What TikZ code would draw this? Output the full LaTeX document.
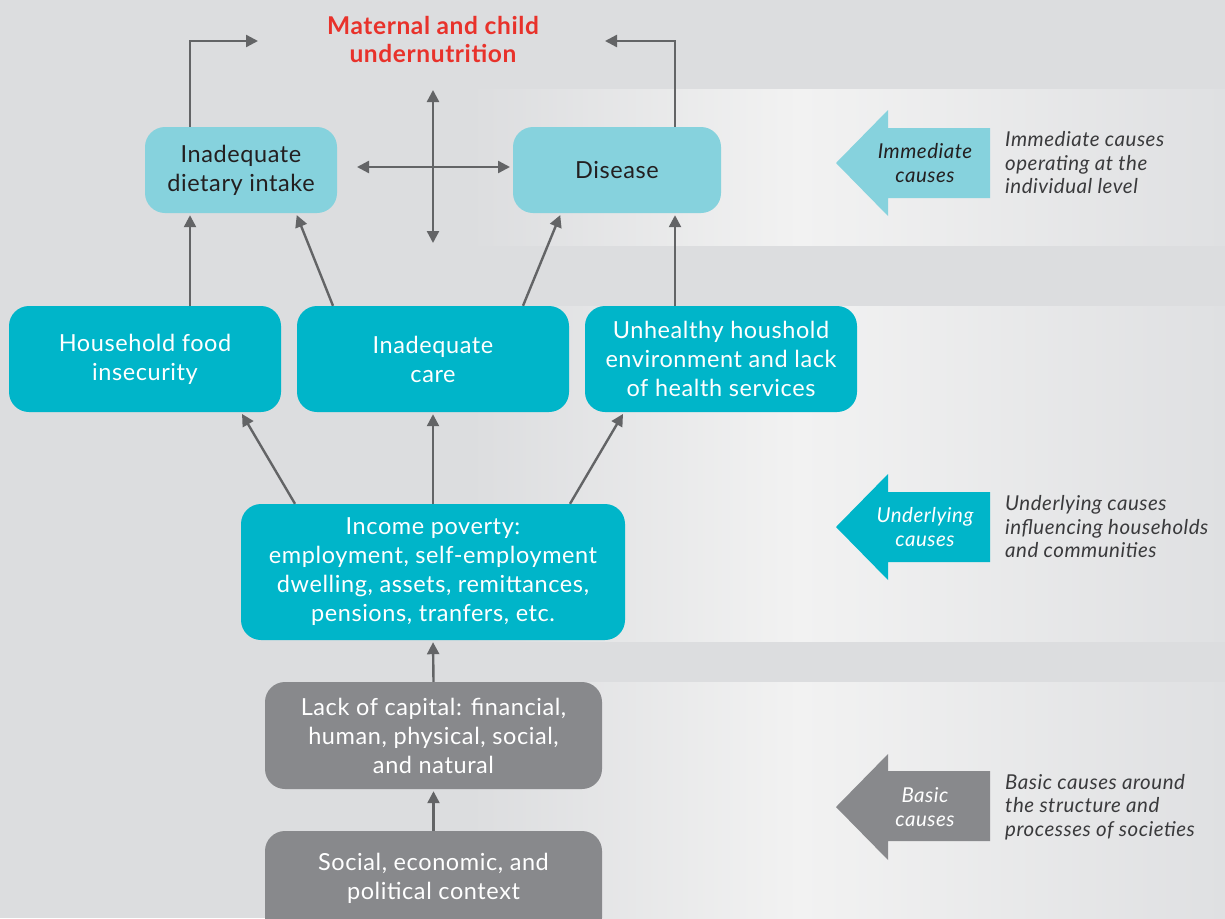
\documentclass[tikz,border=0pt]{standalone}
\usepackage{fontspec}
\setmainfont{Lato}[LetterSpace=2.5]
\usetikzlibrary{arrows.meta,calc}
\definecolor{bg}{HTML}{DCDDDF}
\definecolor{bandhi}{HTML}{F2F2F2}
\definecolor{bandend}{HTML}{DFE0E2}
\definecolor{teallight}{HTML}{86D2DD}
\definecolor{tealdark}{HTML}{00B5C9}
\definecolor{boxgray}{HTML}{88898C}
\definecolor{arrgray}{HTML}{636466}
\definecolor{titlered}{HTML}{E8322B}
\definecolor{txtdark}{HTML}{231F20}
\definecolor{desc}{HTML}{3A3A3C}
\tikzset{
  boxbase/.style={rounded corners=20pt, align=center, inner sep=0pt,
    font=\fontsize{23.5}{29}\selectfont},
  lbox/.style={boxbase, fill=teallight, text=txtdark},
  tbox/.style={boxbase, fill=tealdark, text=white},
  gbox/.style={boxbase, fill=boxgray, text=white},
  arr/.style={draw=arrgray, line width=2.4pt, -{Triangle[length=12pt,width=12pt]}},
  darr/.style={draw=arrgray, line width=2.4pt, {Triangle[length=12pt,width=12pt]}-{Triangle[length=12pt,width=12pt]}},
  sidelabel/.style={align=center, font=\fontsize{20.5}{24}\selectfont\itshape},
  desclabel/.style={align=left, anchor=west, inner sep=0pt, text=desc, font=\fontsize{20.5}{23.5}\selectfont\itshape},
}
\begin{document}
\begin{tikzpicture}[x=1pt,y=-1pt]
\useasboundingbox (0,0) rectangle (1225,918);
\fill[bg] (0,0) rectangle (1225,918);
% bands
\foreach \ya/\yb in {89/245, 306/641, 682/918}{
  \shade[left color=bg, right color=bandhi] (470,\ya) rectangle (800,\yb);
  \shade[left color=bandhi, right color=bandend] (800,\ya) rectangle (1225,\yb);
}
% title
\node[text=titlered, align=center, font=\fontsize{24.5}{28}\selectfont\bfseries] (title) at (433,39) {Maternal and child\\undernutrition};
% boxes
\node[lbox, minimum width=192pt, minimum height=86pt] (diet) at (241,170) {Inadequate\\dietary intake};
\node[lbox, minimum width=208pt, minimum height=86pt] (dis) at (617,170) {Disease};
\node[tbox, minimum width=272pt, minimum height=106pt] (house) at (145,359) {Household food\\insecurity};
\node[tbox, minimum width=272pt, minimum height=106pt] (care) at (433,359) {Inadequate\\care};
\node[tbox, minimum width=272pt, minimum height=106pt] (env) at (721,359) {Unhealthy houshold\\environment and lack\\of health services};
\node[tbox, minimum width=384pt, minimum height=136pt] (inc) at (433,572) {Income poverty:\\employment, self-employment\\dwelling, assets, remittances,\\pensions, tranfers, etc.};
\node[gbox, minimum width=337pt, minimum height=107pt] (cap) at (433.5,735.5) {Lack of capital: financial,\\human, physical, social,\\and natural};
\begin{scope}
\clip (0,0) rectangle (1225,918);
\node[gbox, minimum width=337pt, minimum height=107pt, text height=0pt] (soc) at (433.5,884.5) {};
\end{scope}
\node[text=white, align=center, font=\fontsize{23.5}{29}\selectfont] (soctext) at (433.5,878) {Social, economic, and\\political context};
% connectors
\coordinate (topl) at (258,41);
\coordinate (topr) at (605,41);
\draw[arr] ([xshift=-51pt]diet.north) |- (topl);
\draw[arr] ([xshift=58pt]dis.north) |- (topr);
\coordinate (vt) at (433,90);
\coordinate (vb) at (433,243);
\coordinate (hl) at (357,167);
\coordinate (hr) at (510,167);
\draw[darr] (vt) -- (vb);
\draw[darr] (hl) -- (hr);
\draw[arr, shorten >=2pt] ([xshift=45pt]house.north) -- ([xshift=-51pt]diet.south);
\draw[arr, shorten >=2pt] ([xshift=-100pt]care.north) -- ([xshift=55pt]diet.south);
\draw[arr, shorten >=2pt] ([xshift=90pt]care.north) -- ([xshift=-56pt]dis.south);
\draw[arr, shorten >=2pt] ([xshift=-46pt]env.north) -- ([xshift=58pt]dis.south);
\draw[arr, shorten >=2pt] ([xshift=-138pt]inc.north) -- ([xshift=96pt]house.south);
\draw[arr, shorten >=2pt] (inc.north) -- (care.south);
\draw[arr, shorten >=2pt] ([xshift=137pt]inc.north) -- ([xshift=-97pt]env.south);
\draw[arr, shorten >=2pt] (cap.north) -- (inc.south);
\draw[arr, shorten >=2pt] (soc.north) -- (cap.south);
% side block arrows
\fill[teallight] (836,163) -- (888,110) -- (888,128) -- (990,128) -- (990,198) -- (888,198) -- (888,216) -- cycle;
\node[sidelabel, text=txtdark] (imm) at (925,163) {Immediate\\causes};
\node[desclabel] (immd) at (1005,163) {Immediate causes\\operating at the\\individual level};
\fill[tealdark] (836,527) -- (888,474) -- (888,492) -- (990,492) -- (990,562) -- (888,562) -- (888,580) -- cycle;
\node[sidelabel, text=white] (und) at (925,527) {Underlying\\causes};
\node[desclabel] (undd) at (1005,527) {Underlying causes\\influencing households\\and communities};
\fill[boxgray] (836,807) -- (888,754) -- (888,771) -- (990,771) -- (990,841) -- (888,841) -- (888,860) -- cycle;
\node[sidelabel, text=white] (bas) at (925,807) {Basic\\causes};
\node[desclabel] (basd) at (1005,807) {Basic causes around\\the structure and\\processes of societies};
\end{tikzpicture}
\end{document}
